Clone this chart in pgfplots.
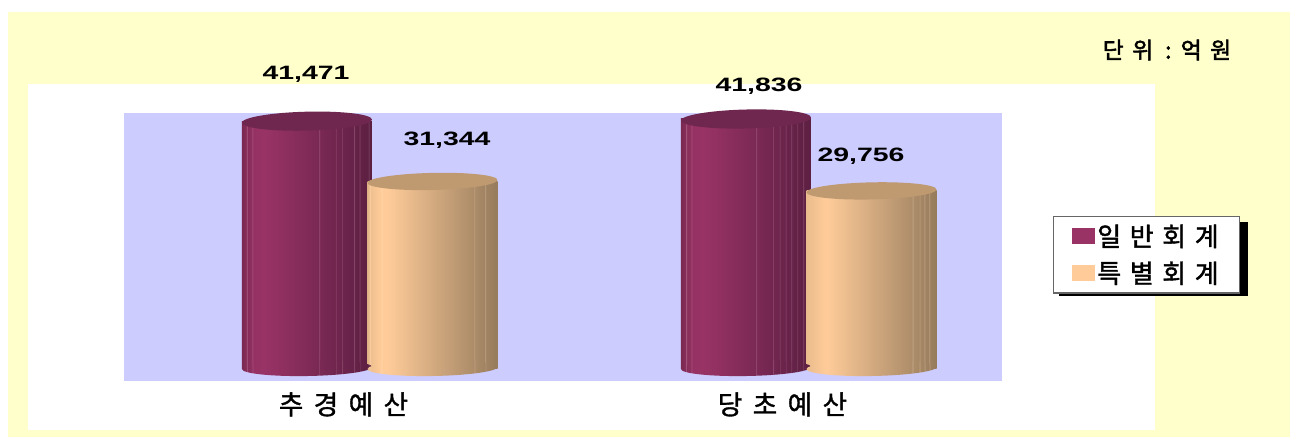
\documentclass[border=0pt]{standalone}
\usepackage{fontspec}
\usepackage{pgfplots}
\pgfplotsset{compat=1.18}
\setmainfont{Liberation Sans}
\newfontfamily\numf[FakeStretch=1.47]{Liberation Sans}
\newfontfamily\krA[LetterSpace=33,FakeBold=1.5]{Noto Sans CJK KR}
\newfontfamily\krC[LetterSpace=39,FakeBold=1.2]{Noto Sans CJK KR}
\newfontfamily\krB[LetterSpace=38,FakeBold=2.5]{Noto Sans CJK KR}
\definecolor{bgY}{HTML}{FFFFCC}
\definecolor{bgP}{HTML}{CCCCFF}
\definecolor{dA}{HTML}{993366}
\definecolor{dB}{HTML}{5C1F42}
\definecolor{dT}{HTML}{6F2750}
\definecolor{pA}{HTML}{FFCC99}
\definecolor{pB}{HTML}{967B5C}
\definecolor{pT}{HTML}{BF9970}
% each cylinder has its own facets
\pgfdeclarehorizontalshading{cylA}{100bp}{
 color(0bp)=(dA!80!black); color(25bp)=(dA!80!black);
 color(26.6bp)=(dA!88!black); color(26.8bp)=(dA!75!white); color(27.1bp)=(dA!88!black);
 color(28.8bp)=(dA!95!black); color(29bp)=(dA!80!white); color(29.3bp)=(dA!97!black);
 color(33.5bp)=(dA);
 color(54.5bp)=(dB!51!dA); color(54.7bp)=(dB!35!dA!85!white); color(55bp)=(dB!52!dA);
 color(60.8bp)=(dB!66!dA); color(61bp)=(dB!50!dA!85!white); color(61.3bp)=(dB!67!dA);
 color(63.3bp)=(dB!72!dA); color(63.5bp)=(dB!55!dA!85!white); color(63.8bp)=(dB!73!dA);
 color(67.9bp)=(dB!83!dA); color(68.1bp)=(dB!65!dA!85!white); color(68.4bp)=(dB!84!dA);
 color(70bp)=(dB!89!dA); color(70.2bp)=(dB!70!dA!85!white); color(70.5bp)=(dB!90!dA);
 color(73.5bp)=(dB!97!dA); color(73.7bp)=(dB!80!dA!85!white); color(74bp)=(dB);
 color(75bp)=(dB); color(100bp)=(dB)}
\pgfdeclarehorizontalshading{cylC}{100bp}{
 color(0bp)=(dA!80!black); color(25bp)=(dA!80!black);
 color(26.8bp)=(dA!88!black); color(27bp)=(dA!75!white); color(27.3bp)=(dA!88!black);
 color(28.8bp)=(dA!95!black); color(29bp)=(dA!80!white); color(29.3bp)=(dA!97!black);
 color(33.5bp)=(dA);
 color(53.7bp)=(dB!49!dA); color(53.9bp)=(dB!33!dA!85!white); color(54.2bp)=(dB!50!dA);
 color(60.2bp)=(dB!65!dA); color(60.4bp)=(dB!50!dA!85!white); color(60.7bp)=(dB!66!dA);
 color(62.7bp)=(dB!71!dA); color(62.9bp)=(dB!55!dA!85!white); color(63.2bp)=(dB!72!dA);
 color(65bp)=(dB!76!dA); color(65.2bp)=(dB!60!dA!85!white); color(65.5bp)=(dB!77!dA);
 color(67.2bp)=(dB!82!dA); color(67.4bp)=(dB!65!dA!85!white); color(67.7bp)=(dB!83!dA);
 color(69.5bp)=(dB!87!dA); color(69.7bp)=(dB!70!dA!85!white); color(70bp)=(dB!88!dA);
 color(71.8bp)=(dB!93!dA); color(72bp)=(dB!75!dA!85!white); color(72.3bp)=(dB!94!dA);
 color(75bp)=(dB); color(100bp)=(dB)}
\pgfdeclarehorizontalshading{cylB}{100bp}{
 color(0bp)=(pA!88!black); color(25bp)=(pA!88!black);
 color(25.7bp)=(pA!92!black); color(25.9bp)=(pA!75!white); color(26.2bp)=(pA!94!black);
 color(30.2bp)=(pA); color(30.4bp)=(pA!85!white); color(30.7bp)=(pA);
 color(32.5bp)=(pA);
 color(65.8bp)=(pB!79!pA); color(66bp)=(pB!65!pA!85!white); color(66.3bp)=(pB!80!pA);
 color(70bp)=(pB!89!pA); color(70.2bp)=(pB!75!pA!85!white); color(70.5bp)=(pB!90!pA);
 color(75bp)=(pB); color(100bp)=(pB)}
\pgfdeclarehorizontalshading{cylD}{100bp}{
 color(0bp)=(pA!92!black); color(25bp)=(pA!92!black);
 color(32.5bp)=(pA);
 color(65.6bp)=(pB!78!pA); color(65.8bp)=(pB!65!pA!85!white); color(66.1bp)=(pB!79!pA);
 color(68.2bp)=(pB!84!pA); color(68.4bp)=(pB!70!pA!85!white); color(68.7bp)=(pB!85!pA);
 color(70.1bp)=(pB!89!pA); color(70.3bp)=(pB!75!pA!85!white); color(70.6bp)=(pB!90!pA);
 color(72bp)=(pB!93!pA); color(72.2bp)=(pB!80!pA!85!white); color(72.5bp)=(pB!94!pA);
 color(75bp)=(pB); color(100bp)=(pB)}
\pgfdeclareplotmark{topA}{\pgfsetfillcolor{dT}%
 \pgfpathellipse{\pgfpointorigin}{\pgfqpoint{48.75pt}{1.2pt}}{\pgfqpoint{-0.2pt}{7.1pt}}\pgfusepathqfill}
\pgfdeclareplotmark{topB}{\pgfsetfillcolor{pT}%
 \pgfpathellipse{\pgfpointorigin}{\pgfqpoint{48.75pt}{1.1pt}}{\pgfqpoint{-0.2pt}{6.4pt}}\pgfusepathqfill}
\pgfdeclareplotmark{baseA}{\pgfpathellipse{\pgfpointorigin}{\pgfqpoint{48.75pt}{0.8pt}}{\pgfqpoint{-0.1pt}{6pt}}\pgfshadepath{cylA}{0}\pgfusepath{discard}}
\pgfdeclareplotmark{baseC}{\pgfpathellipse{\pgfpointorigin}{\pgfqpoint{48.75pt}{0.8pt}}{\pgfqpoint{-0.1pt}{6pt}}\pgfshadepath{cylC}{0}\pgfusepath{discard}}
\pgfdeclareplotmark{baseB}{\pgfpathellipse{\pgfpointorigin}{\pgfqpoint{48.75pt}{0.8pt}}{\pgfqpoint{-0.1pt}{6pt}}\pgfshadepath{cylB}{0}\pgfusepath{discard}}
\pgfdeclareplotmark{baseD}{\pgfpathellipse{\pgfpointorigin}{\pgfqpoint{48.75pt}{0.8pt}}{\pgfqpoint{-0.1pt}{6pt}}\pgfshadepath{cylD}{0}\pgfusepath{discard}}
\begin{document}
\begin{tikzpicture}
\begin{scope}[x=0.75pt,y=-0.75pt]
 \fill[white] (0,0) rectangle (1290,437);
 \fill[bgY] (8,12) rectangle (1290,437);
 \fill[white] (28,84) rectangle (1155,430);
 \fill[black] (1059,222) rectangle (1248,296);
 \node[anchor=center,inner sep=0pt,font=\krB\fontsize{17pt}{20pt}\selectfont] at (1167,50) {단위\hspace{9pt}:\hspace{7pt}억원};
\end{scope}
\begin{axis}[
 at={(93pt,-285.75pt)},anchor=south west,
 scale only axis,width=658.5pt,height=201pt,
 xmin=-0.5,xmax=1.5,ymin=-2184,ymax=42840,
 clip=false,
 axis line style={draw=none},
 axis background/.style={fill=bgP},
 major tick length=0pt,
 ytick=\empty,
 xtick={0,1},xticklabels={추경예산,당초예산},
 xticklabel style={font=\krC\fontsize{20pt}{22pt}\selectfont,yshift=-5pt},
 legend cell align=left,
 legend style={at={(1.058,0.6157)},anchor=north west,draw=gray!80!black,line width=1pt,fill=white,
  font=\krA\fontsize{19.5pt}{21pt}\selectfont,inner xsep=13.5pt,inner ysep=4pt,
  row sep=6pt},
]
% general account: base, body, top
\addplot[only marks,mark=baseA,forget plot] coordinates {(-0.0831,0)};
\addplot[ybar,bar width=97.5pt,bar shift=-27.4pt,draw=none,shading=cylA,
 legend image code/.code={\fill[dA,shade=false] (0pt,-6pt) rectangle (17.25pt,6pt);}]
 coordinates {(0,41471)};
\addlegendentry{일반회계}
\addplot[only marks,mark=topA,forget plot] coordinates {(-0.0831,41471)};
\addplot[only marks,mark=baseC,forget plot] coordinates {(0.9169,0)};
\addplot[ybar,bar width=97.5pt,bar shift=-27.4pt,draw=none,shading=cylC,forget plot]
 coordinates {(1,41836)};
\addplot[only marks,mark=topA,forget plot] coordinates {(0.9169,41836)};
% special account
\addplot[only marks,mark=baseB,forget plot] coordinates {(0.2027,0)};
\addplot[ybar,bar width=97.5pt,bar shift=66.75pt,draw=none,shading=cylB,
 legend image code/.code={\fill[pA,shade=false] (0pt,-6pt) rectangle (17.25pt,6pt);}]
 coordinates {(0,31344)};
\addlegendentry{특별회계}
\addplot[only marks,mark=topB,forget plot] coordinates {(0.2027,31344)};
\addplot[only marks,mark=baseD,forget plot] coordinates {(1.2027,0)};
\addplot[ybar,bar width=97.5pt,bar shift=66.75pt,draw=none,shading=cylD,forget plot]
 coordinates {(1,29756)};
\addplot[only marks,mark=topB,forget plot] coordinates {(1.2027,29756)};
% value labels
\node[font=\numf\bfseries\fontsize{14.5pt}{16pt}\selectfont] at (axis cs:-0.0854,49392) {41,471};
\node[font=\numf\bfseries\fontsize{14.5pt}{16pt}\selectfont] at (axis cs:0.2358,38304) {31,344};
\node[font=\numf\bfseries\fontsize{14.5pt}{16pt}\selectfont] at (axis cs:0.9465,47376) {41,836};
\node[font=\numf\bfseries\fontsize{14.5pt}{16pt}\selectfont] at (axis cs:1.1789,35616) {29,756};
\end{axis}
\end{tikzpicture}
\end{document}
